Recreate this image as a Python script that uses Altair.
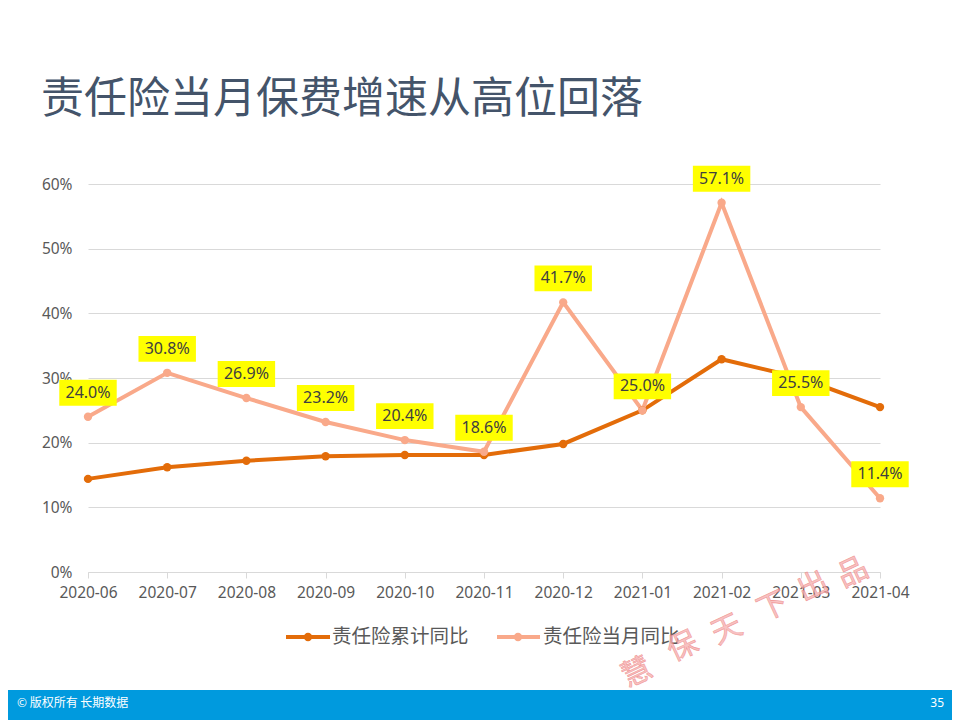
import altair as alt
import pandas as pd

# ---- data ----
months = ["2020-06", "2020-07", "2020-08", "2020-09", "2020-10", "2020-11",
          "2020-12", "2021-01", "2021-02", "2021-03", "2021-04"]
cumulative = [0.144, 0.162, 0.172, 0.179, 0.181, 0.181, 0.198, 0.250, 0.329, 0.300, 0.255]
monthly = [0.240, 0.308, 0.269, 0.232, 0.204, 0.186, 0.417, 0.250, 0.571, 0.255, 0.114]
series_names = ["责任险累计同比", "责任险当月同比"]
series_colors = ["#E36C09", "#F9A98A"]
y_ticks = [0, 0.1, 0.2, 0.3, 0.4, 0.5, 0.6]
title_text = "责任险当月保费增速从高位回落"
footer_left = "© 版权所有 长期数据"
footer_right = "35"
watermark_chars = ["慧", "保", "天", "下", "出", "品"]

rows = []
for m, v in zip(months, cumulative):
    rows.append({"month": m, "series": series_names[0], "value": v})
for m, v in zip(months, monthly):
    rows.append({"month": m, "series": series_names[1], "value": v})
df = pd.DataFrame(rows)
df_monthly = df[df["series"] == series_names[1]]

W, H = 792, 388
LATIN = "Noto Sans"
CJK = "Noto Sans CJK SC"

x_enc = alt.X("month:O", sort=months, scale=alt.Scale(type="point", padding=0),
              axis=alt.Axis(title=None, labelAngle=0, labelFontSize=15.5, labelColor="#595959",
                            labelFont=LATIN, domainColor="#D9D9D9", tickColor="#D9D9D9",
                            tickSize=6, labelPadding=7, grid=False))
y_enc = alt.Y("value:Q", scale=alt.Scale(domain=[0, 0.6]),
              axis=alt.Axis(title=None, values=y_ticks, format=".0%", domain=False, ticks=False,
                            gridColor="#D9D9D9", labelFontSize=15.5, labelColor="#595959",
                            labelFont=LATIN, labelPadding=16))
color_enc = alt.Color("series:N", scale=alt.Scale(domain=series_names, range=series_colors), legend=None)

base = alt.Chart(df)
lines = base.mark_line(strokeWidth=4).encode(x=x_enc, y=y_enc, color=color_enc, detail="series:N")
points = base.mark_point(filled=True, size=70, opacity=1).encode(x=x_enc, y=y_enc, color=color_enc)

mbase = alt.Chart(df_monthly)
boxes = mbase.mark_point(shape="M-1,-0.45L1,-0.45L1,0.45L-1,0.45Z", size=3300, filled=True,
                         color="#FFFF00", opacity=1, yOffset=-24).encode(x=x_enc, y=y_enc)
labels = mbase.mark_text(yOffset=-24, fontSize=16, color="#404040", font=LATIN).encode(
    x=x_enc, y=y_enc, text=alt.Text("value:Q", format=".1%"))

one = pd.DataFrame({"a": [0]})
deco = []
# title
deco.append(alt.Chart(one).mark_text(align="left", baseline="middle", fontSize=43, font=CJK,
                                      color="#44546A").encode(
    x=alt.value(-47), y=alt.value(-84), text=alt.value(title_text)))
# legend
leg = [(198, 242, 220, 244), (409, 452, 430, 455)]
for name, col, (x1, x2, xd, xt) in zip(series_names, series_colors, leg):
    deco.append(alt.Chart(one).mark_rule(strokeWidth=4, color=col).encode(
        x=alt.value(x1), x2=alt.value(x2), y=alt.value(453)))
    deco.append(alt.Chart(one).mark_point(filled=True, size=70, opacity=1, color=col).encode(
        x=alt.value(xd), y=alt.value(453)))
    deco.append(alt.Chart(one).mark_text(align="left", baseline="middle", fontSize=19.5, font=CJK,
                                          color="#595959").encode(
        x=alt.value(xt), y=alt.value(453), text=alt.value(name)))
# footer band
deco.append(alt.Chart(one).mark_rect(color="#009ADE").encode(
    x=alt.value(-80), x2=alt.value(864), y=alt.value(506), y2=alt.value(536)))
deco.append(alt.Chart(one).mark_text(align="left", baseline="middle", fontSize=12, font=CJK,
                                      color="white").encode(
    x=alt.value(-71), y=alt.value(519), text=alt.value(footer_left)))
deco.append(alt.Chart(one).mark_text(align="right", baseline="middle", fontSize=12, font=LATIN,
                                      color="white").encode(
    x=alt.value(856), y=alt.value(519), text=alt.value(footer_right)))
# watermark
wm_pos = [(549, 489), (595, 463), (639, 446), (685, 423), (725, 403), (765, 389)]
for ch, (wx, wy) in zip(watermark_chars, wm_pos):
    deco.append(alt.Chart(one).mark_text(align="center", baseline="middle", fontSize=30, font=CJK,
                                          angle=335, fill="#F6B3B3", stroke="#EE8080",
                                          strokeWidth=0.6, opacity=0.8).encode(
        x=alt.value(wx), y=alt.value(wy), text=alt.value(ch)))

chart = alt.layer(lines, points, boxes, labels, *deco).properties(
    width=W, height=H,
    autosize=alt.AutoSizeParams(type="none"),
    padding={"left": 80, "top": 176, "right": 72, "bottom": 148},
    background="white",
).configure_view(stroke=None)

chart.save("out.html", embed_options={"renderer": "svg", "actions": False})
